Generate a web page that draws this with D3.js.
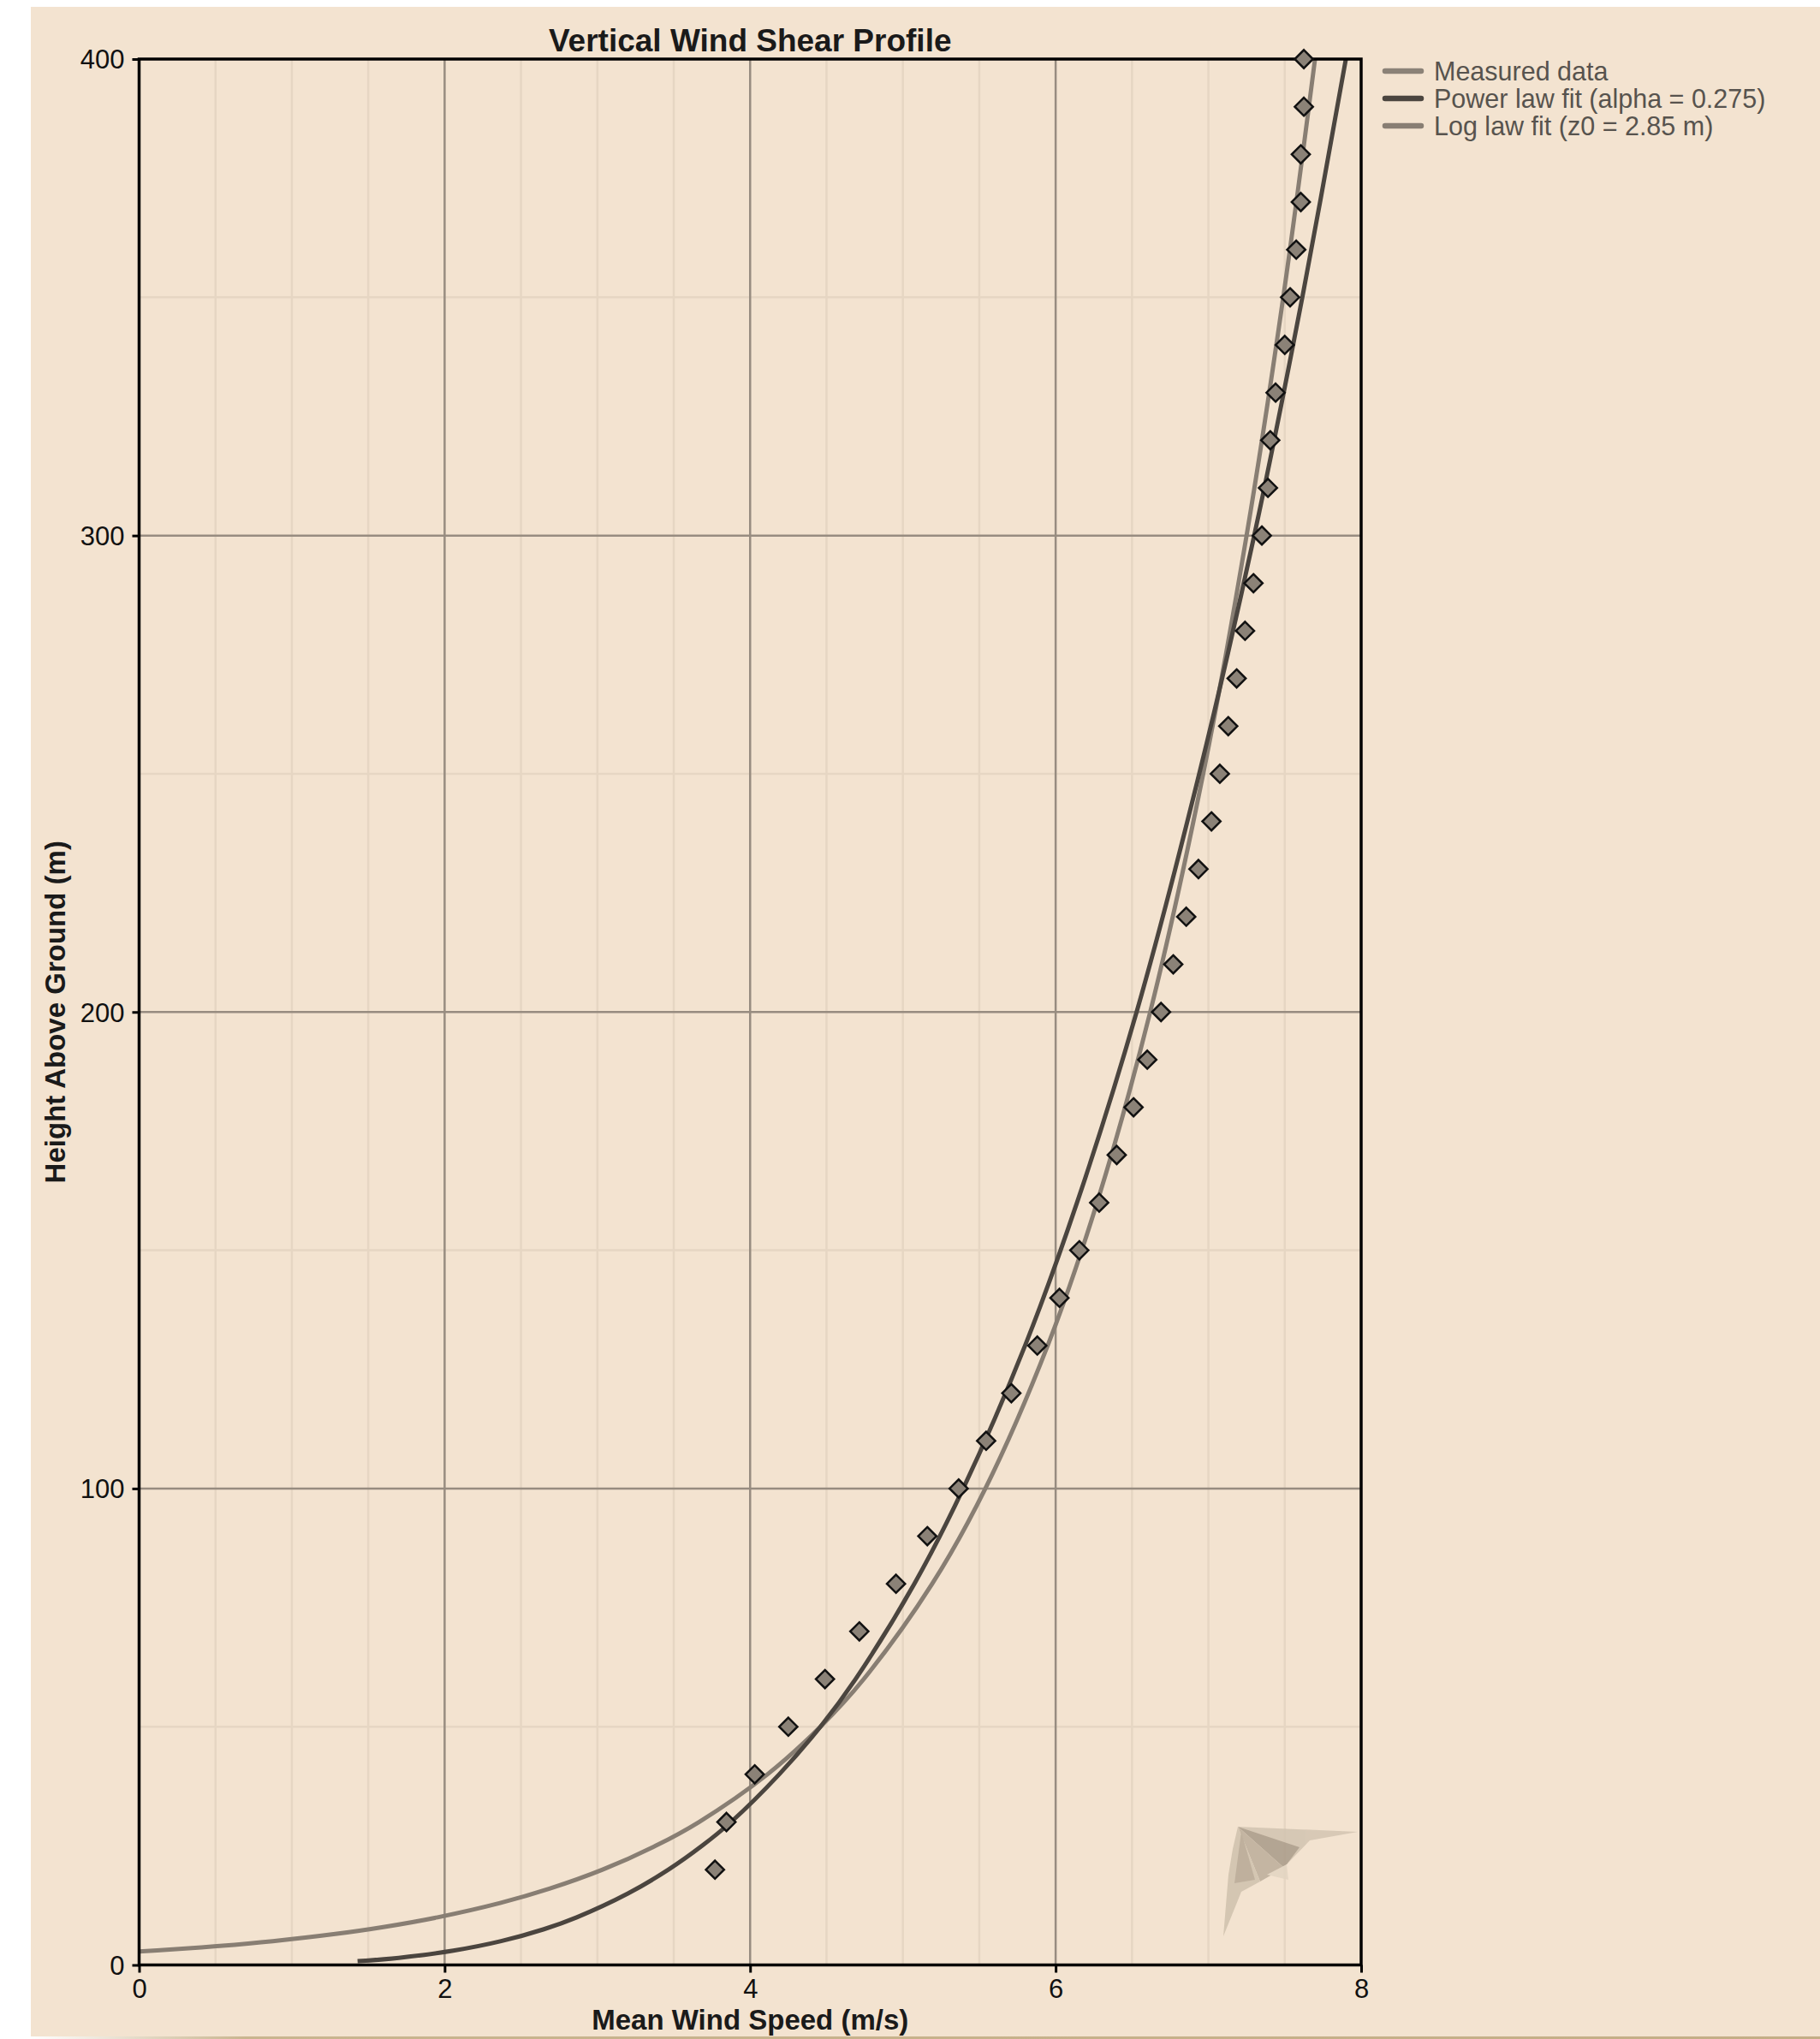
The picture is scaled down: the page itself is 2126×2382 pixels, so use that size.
<!DOCTYPE html>
<html>
<head>
<meta charset="utf-8">
<title>Vertical Wind Shear Profile</title>
<script src="https://cdn.jsdelivr.net/npm/d3@7"></script>
<style>
  html, body { margin: 0; padding: 0; background: #ffffff; }
  svg { display: block; }
  text { font-family: "Liberation Sans", Arial, sans-serif; }
</style>
</head>
<body>
<div id="chart"></div>
<script>
// Measured mean wind speed (m/s) at each sensor height (m)
const measuredHeights = [20, 30, 40, 50, 60, 70, 80, 90, 100, 110, 120, 130, 140, 150, 160, 170, 180, 190, 200,
  210, 220, 230, 240, 250, 260, 270, 280, 290, 300, 310, 320, 330, 340, 350, 360, 370, 380, 390, 400];
const measuredSpeeds = [3.77, 3.845, 4.03, 4.25, 4.49, 4.715, 4.955, 5.16, 5.365, 5.545, 5.71, 5.88, 6.025, 6.155,
  6.285, 6.40, 6.51, 6.60, 6.69, 6.77, 6.855, 6.935, 7.02, 7.075, 7.13, 7.185, 7.24, 7.295, 7.35, 7.39, 7.405,
  7.44, 7.50, 7.535, 7.575, 7.605, 7.605, 7.625, 7.625];

// Power law fit curve (alpha = 0.275)
const powerHeights = [0.8, 1.5, 3, 5, 7.5, 10, 15, 20, 25, 30, 40, 50, 60, 80, 100, 130, 160, 200, 250, 300, 350, 400];
const powerSpeeds = [1.43, 1.70, 2.057, 2.37, 2.65, 2.865, 3.20, 3.465, 3.685, 3.875, 4.19, 4.46, 4.69, 5.075,
  5.395, 5.80, 6.14, 6.53, 6.94, 7.30, 7.615, 7.90];

// Log law fit curve (z0 = 2.85 m)
const logHeights = [2.85, 3.2, 4, 5, 6.5, 8, 10, 13, 16, 20, 25, 30, 40, 50, 60, 80, 100, 130, 160, 200, 250, 300, 350, 400];
const logSpeeds = [0, 0.18, 0.528, 0.875, 1.284, 1.607, 1.954, 2.363, 2.686, 3.034, 3.381, 3.665, 4.113, 4.46,
  4.744, 5.192, 5.54, 5.948, 6.271, 6.619, 6.966, 7.25, 7.49, 7.698];

const xTicks = [0, 2, 4, 6, 8];
const yTicks = [0, 100, 200, 300, 400];
const xMinorGrid = [0.5, 1, 1.5, 2.5, 3, 3.5, 4.5, 5, 5.5, 6.5, 7, 7.5];
const yMinorGrid = [50, 150, 250, 350];
const xMajorGrid = [2, 4, 6];
const yMajorGrid = [100, 200, 300];

const legendLabels = ["Measured data", "Power law fit (alpha = 0.275)", "Log law fit (z0 = 2.85 m)"];

const titleText = "Vertical Wind Shear Profile";
const xTitle = "Mean Wind Speed (m/s)";
const yTitle = "Height Above Ground (m)";

// ---- layout ----
const W = 2126, H = 2382;
const plot = { left: 162.5, right: 1590, top: 69, bottom: 2295.5 };

const colors = {
  panel: "#f3e3d0",
  minorGrid: "#e6d6c3",
  majorGrid: "#978c80",
  measured: "#8b8277",
  power: "#4b453f",
  log: "#887e73",
  legendText: "#57534e"
};

const svg = d3.select("#chart").append("svg")
  .attr("width", W).attr("height", H)
  .attr("viewBox", `0 0 ${W} ${H}`);

svg.append("rect").attr("width", W).attr("height", H).attr("fill", "#ffffff");
svg.append("rect").attr("x", 36).attr("y", 8).attr("width", W - 36).attr("height", H - 11)
  .attr("fill", colors.panel);

// thin tan rule along the bottom edge of the panel
const defs = svg.append("defs");
const grad = defs.append("linearGradient").attr("id", "baseRule").attr("x1", "0").attr("x2", "1");
grad.append("stop").attr("offset", "0").attr("stop-color", "#ffffff");
grad.append("stop").attr("offset", "0.12").attr("stop-color", "#c9b58f");
grad.append("stop").attr("offset", "1").attr("stop-color", "#c4ae86");
svg.append("rect").attr("x", 36).attr("y", H - 3).attr("width", W - 36).attr("height", 3)
  .attr("fill", "url(#baseRule)");

const x = d3.scaleLinear().domain([0, 8]).range([plot.left, plot.right]);
const y = d3.scaleLinear().domain([0, 400]).range([plot.bottom, plot.top]);

// ---- grid ----
const grid = svg.append("g");
grid.selectAll("line.vmin").data(xMinorGrid).join("line")
  .attr("x1", d => x(d)).attr("x2", d => x(d)).attr("y1", plot.top).attr("y2", plot.bottom)
  .attr("stroke", colors.minorGrid).attr("stroke-width", 2.5);
grid.selectAll("line.hmin").data(yMinorGrid).join("line")
  .attr("y1", d => y(d)).attr("y2", d => y(d)).attr("x1", plot.left).attr("x2", plot.right)
  .attr("stroke", colors.minorGrid).attr("stroke-width", 2.5);
grid.selectAll("line.vmaj").data(xMajorGrid).join("line")
  .attr("x1", d => x(d)).attr("x2", d => x(d)).attr("y1", plot.top).attr("y2", plot.bottom)
  .attr("stroke", colors.majorGrid).attr("stroke-width", 2.5);
grid.selectAll("line.hmaj").data(yMajorGrid).join("line")
  .attr("y1", d => y(d)).attr("y2", d => y(d)).attr("x1", plot.left).attr("x2", plot.right)
  .attr("stroke", colors.majorGrid).attr("stroke-width", 2.5);

// ---- faint kite emblem in the lower-right corner of the plot ----
const emblem = svg.append("g").attr("opacity", 0.85);
const emblemShapes = [
  { pts: [[1446, 2134], [1586, 2140], [1530, 2150], [1503, 2178], [1470, 2150]], fill: "#d2c4b1" },
  { pts: [[1446, 2134], [1518, 2158], [1500, 2182]], fill: "#a99b89" },
  { pts: [[1446, 2134], [1500, 2182], [1472, 2198]], fill: "#bcae9b" },
  { pts: [[1446, 2134], [1440, 2160], [1435, 2190], [1429, 2262], [1450, 2210], [1472, 2198]], fill: "#cfc1ad" },
  { pts: [[1450, 2140], [1466, 2196], [1442, 2200]], fill: "#b6a895" },
  { pts: [[1480, 2190], [1503, 2178], [1505, 2196]], fill: "#e3d5c2" }
];
emblem.selectAll("path").data(emblemShapes).join("path")
  .attr("d", d => "M" + d.pts.map(p => p.join(",")).join("L") + "Z")
  .attr("fill", d => d.fill);

// ---- fit curves ----
const curveLine = d3.line()
  .x(d => x(d[0])).y(d => y(d[1]))
  .curve(d3.curveCatmullRom.alpha(0.5));

const logData = logSpeeds.map((s, i) => [s, logHeights[i]]);
const powerData = powerSpeeds.map((s, i) => [s, powerHeights[i]]);

svg.append("path").datum(logData)
  .attr("d", curveLine).attr("fill", "none")
  .attr("stroke", colors.log).attr("stroke-width", 5).attr("stroke-linejoin", "round");
svg.append("path").datum(powerData)
  .attr("d", curveLine).attr("fill", "none")
  .attr("stroke", colors.power).attr("stroke-width", 5).attr("stroke-linejoin", "round");

// ---- frame ----
svg.append("rect")
  .attr("x", plot.left).attr("y", plot.top)
  .attr("width", plot.right - plot.left).attr("height", plot.bottom - plot.top)
  .attr("fill", "none").attr("stroke", "#000").attr("stroke-width", 3.5);

// ---- measured points (diamonds) ----
const measured = measuredSpeeds.map((s, i) => [s, measuredHeights[i]]);
const diamond = d3.symbol().type(d3.symbolDiamond2).size(2 * 12 * 12);
svg.append("g").selectAll("path").data(measured).join("path")
  .attr("transform", d => `translate(${x(d[0])},${y(d[1])})`)
  .attr("d", diamond)
  .attr("fill", colors.measured).attr("stroke", "#111").attr("stroke-width", 2.5);

// ---- axes ----
const xAxis = d3.axisBottom(x).tickValues(xTicks).tickSize(9).tickPadding(7).tickFormat(d3.format("d"));
const yAxis = d3.axisLeft(y).tickValues(yTicks).tickSize(8).tickPadding(9).tickFormat(d3.format("d"));

const gx = svg.append("g").attr("transform", `translate(0,${plot.bottom})`).call(xAxis);
const gy = svg.append("g").attr("transform", `translate(${plot.left},0)`).call(yAxis);
[gx, gy].forEach(g => {
  g.select(".domain").remove();
  g.selectAll(".tick line").attr("stroke", "#000").attr("stroke-width", 3);
  g.selectAll(".tick text").attr("font-size", 31).attr("fill", "#111")
    .attr("font-family", "'Liberation Sans', Arial, sans-serif");
});
gy.selectAll(".tick text").attr("dy", "0.35em");

// ---- titles ----
svg.append("text")
  .attr("x", (plot.left + plot.right) / 2).attr("y", 60)
  .attr("text-anchor", "middle").attr("font-size", 37).attr("font-weight", "bold").attr("fill", "#1a1a1a")
  .text(titleText);

svg.append("text")
  .attr("x", (plot.left + plot.right) / 2).attr("y", 2371)
  .attr("text-anchor", "middle").attr("font-size", 33).attr("font-weight", "bold").attr("fill", "#1a1a1a")
  .text(xTitle);

svg.append("text")
  .attr("transform", `translate(76,${(plot.top + plot.bottom) / 2}) rotate(-90)`)
  .attr("text-anchor", "middle").attr("font-size", 33).attr("font-weight", "bold").attr("fill", "#1a1a1a")
  .text(yTitle);

// ---- legend ----
const legendColors = [colors.measured, colors.power, colors.log];
const legend = svg.append("g").attr("transform", "translate(1615,83)");
const rows = legend.selectAll("g").data(legendLabels).join("g")
  .attr("transform", (d, i) => `translate(0,${i * 32})`);
rows.append("line")
  .attr("x1", 3).attr("x2", 45).attr("y1", 0).attr("y2", 0)
  .attr("stroke", (d, i) => legendColors[i]).attr("stroke-width", 6.5).attr("stroke-linecap", "round");
rows.append("text")
  .attr("x", 60).attr("y", 0).attr("dy", "0.36em")
  .attr("font-size", 30.5).attr("fill", colors.legendText)
  .text(d => d);
</script>
</body>
</html>
